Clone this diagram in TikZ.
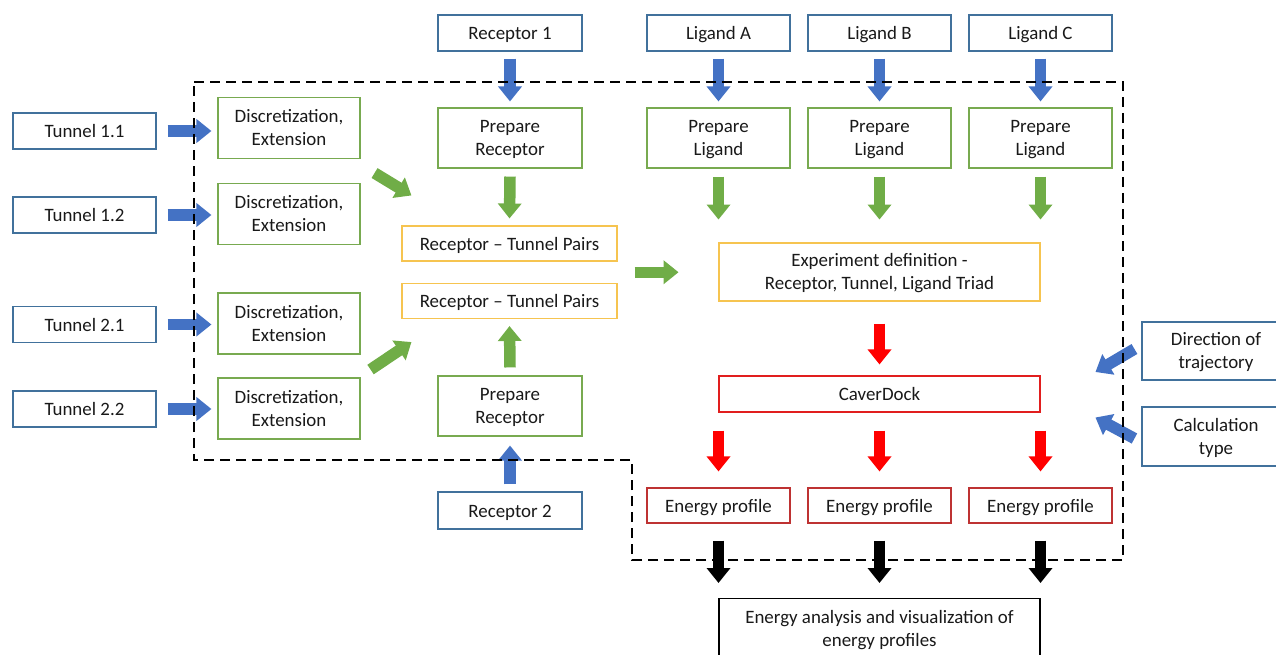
\documentclass[tikz,border=0pt]{standalone}
\usepackage{fontspec}
\setmainfont{Carlito}
\usetikzlibrary{arrows.meta,calc}
\definecolor{bbord}{RGB}{65,113,156}
\definecolor{gbord}{RGB}{120,170,80}
\definecolor{ybord}{RGB}{246,196,80}
\definecolor{rbord}{RGB}{225,30,30}
\definecolor{dbord}{RGB}{190,50,50}
\definecolor{ablue}{RGB}{68,114,196}
\definecolor{agreen}{RGB}{112,173,71}
\definecolor{ared}{RGB}{255,0,0}
\definecolor{txt}{RGB}{25,25,25}
\tikzset{
  box/.style={draw, line width=1.1, fill=white, align=center, inner sep=0, text=txt,
    font=\fontsize{18.9}{23.3}\selectfont},
  one/.style={text height=13, text depth=0},
  two/.style={text height=35.6, text depth=0},
  bluebox/.style={box, draw=bbord},
  greenbox/.style={box, draw=gbord},
  yellowbox/.style={box, draw=ybord},
  redbox/.style={box, draw=rbord},
  dredbox/.style={box, draw=dbord},
  blackbox/.style={box, draw=black},
  arr/.style={line width=11.5, draw=#1, -{Triangle[length=15pt,width=23pt]}},
  frame/.style={line width=2.7, dash pattern=on 10pt off 6pt, draw=black},
}
\begin{document}
\begin{tikzpicture}[x=1pt,y=-1pt]
\useasboundingbox (0,0) rectangle (1276,655);
% top inputs
\node[bluebox, one, minimum width=144, minimum height=36] (r1) at (510,33) {Receptor 1};
\node[bluebox, one, minimum width=143, minimum height=36] (la) at (718.5,33) {Ligand A};
\node[bluebox, one, minimum width=143, minimum height=36] (lb) at (879.5,33) {Ligand B};
\node[bluebox, one, minimum width=143, minimum height=36] (lc) at (1040.5,33) {Ligand C};
% prepare
\node[greenbox, two, minimum width=144, minimum height=60] (pr1) at (510,138) {Prepare\\Receptor};
\node[greenbox, two, minimum width=143, minimum height=60] (pla) at (718.5,138) {Prepare\\Ligand};
\node[greenbox, two, minimum width=143, minimum height=60] (plb) at (879.5,138) {Prepare\\Ligand};
\node[greenbox, two, minimum width=143, minimum height=60] (plc) at (1040.5,138) {Prepare\\Ligand};
% tunnels
\node[bluebox, one, minimum width=143, minimum height=36] (t1) at (84.5,131) {Tunnel 1.1};
\node[bluebox, one, minimum width=143, minimum height=36] (t2) at (84.5,215) {Tunnel 1.2};
\node[bluebox, one, minimum width=143, minimum height=36] (t3) at (84.5,324.5) {Tunnel 2.1};
\node[bluebox, one, minimum width=143, minimum height=36] (t4) at (84.5,409) {Tunnel 2.2};
% discretization
\node[greenbox, two, minimum width=142, minimum height=61] (d1) at (289,128) {Discretization,\\Extension};
\node[greenbox, two, minimum width=142, minimum height=61] (d2) at (289,214) {Discretization,\\Extension};
\node[greenbox, two, minimum width=142, minimum height=61] (d3) at (289,323.5) {Discretization,\\Extension};
\node[greenbox, two, minimum width=142, minimum height=61] (d4) at (289,408.5) {Discretization,\\Extension};
% pairs
\node[yellowbox, one, minimum width=215, minimum height=35] (rtp1) at (509.5,243.5) {Receptor -- Tunnel Pairs};
\node[yellowbox, one, minimum width=215, minimum height=35] (rtp2) at (509.5,301) {Receptor -- Tunnel Pairs};
% receptor 2
\node[greenbox, two, minimum width=144, minimum height=60] (pr2) at (510,406) {Prepare\\Receptor};
\node[bluebox, one, minimum width=144, minimum height=37] (r2) at (510,510.5) {Receptor 2};
% experiment
\node[yellowbox, two, minimum width=321, minimum height=58] (exp) at (879.5,272) {Experiment definition -\\Receptor, Tunnel, Ligand Triad};
\node[redbox, one, minimum width=321, minimum height=36] (cd) at (879.5,394) {CaverDock};
% energy profiles
\node[dredbox, one, minimum width=143, minimum height=35] (e1) at (718.5,505.5) {Energy profile};
\node[dredbox, one, minimum width=143, minimum height=35] (e2) at (879.5,505.5) {Energy profile};
\node[dredbox, one, minimum width=143, minimum height=35] (e3) at (1040.5,505.5) {Energy profile};
\node[blackbox, two, minimum width=321, minimum height=61, anchor=north] (fin) at (879.5,598) {Energy analysis and visualization of\\energy profiles};
% side inputs
\node[bluebox, two, minimum width=148, minimum height=58] (dir) at (1216,351) {Direction of\\trajectory};
\node[bluebox, two, minimum width=148, minimum height=59] (ct) at (1216,436.5) {Calculation\\type};
% blue arrows
\draw[arr=ablue] ($(r1.south)+(0,7)$) -- ($(pr1.north)+(0,-6)$);
\draw[arr=ablue] ($(la.south)+(0,7)$) -- ($(pla.north)+(0,-6)$);
\draw[arr=ablue] ($(lb.south)+(0,7)$) -- ($(plb.north)+(0,-6)$);
\draw[arr=ablue] ($(lc.south)+(0,7)$) -- ($(plc.north)+(0,-6)$);
\draw[arr=ablue] ($(t1.east)+(11,0)$) -- ($(d1.west |- t1.east)+(-6,0)$);
\draw[arr=ablue] ($(t2.east)+(11,0)$) -- ($(d2.west |- t2.east)+(-6,0)$);
\draw[arr=ablue] ($(t3.east)+(11,0)$) -- ($(d3.west |- t3.east)+(-6,0)$);
\draw[arr=ablue] ($(t4.east)+(11,0)$) -- ($(d4.west |- t4.east)+(-6,0)$);
\draw[arr=ablue] ($(r2.north)+(0,-7)$) -- ($(pr2.south)+(0,9)$);
\draw[arr=ablue] ($(dir.west)+(-7,-2)$) -- ($(dir.west)+(-46,21)$);
\draw[arr=ablue] ($(ct.west)+(-7,2)$) -- ($(ct.west)+(-46,-19)$);
% green arrows
\draw[arr=agreen] ($(pr1.south)+(0,8)$) -- ($(rtp1.north)+(0,-7)$);
\draw[arr=agreen] ($(pla.south)+(0,8)$) -- ($(pla.south)+(0,51)$);
\draw[arr=agreen] ($(plb.south)+(0,8)$) -- ($(plb.south)+(0,51)$);
\draw[arr=agreen] ($(plc.south)+(0,8)$) -- ($(plc.south)+(0,51)$);
\draw[arr=agreen] ($(d1.south east)+(14,14)$) -- ($(rtp1.north west)+(10,-30)$);
\draw[arr=agreen] ($(d3.south east)+(10,15)$) -- ($(rtp2.south west)+(10,23)$);
\draw[arr=agreen] ($(pr2.north)+(0,-8)$) -- ($(rtp2.south)+(0,7)$);
\coordinate (rm) at ($(rtp1.east)!0.5!(rtp2.east)$);
\draw[arr=agreen] ($(rm)+(17,0)$) -- ($(rm)+(61,0)$);
% red arrows
\draw[arr=ared] ($(exp.south)+(0,22)$) -- ($(cd.north)+(0,-11)$);
\draw[arr=ared] ($(e1.north |- cd.south)+(0,18)$) -- ($(e1.north)+(0,-16)$);
\draw[arr=ared] ($(e2.north |- cd.south)+(0,18)$) -- ($(e2.north)+(0,-16)$);
\draw[arr=ared] ($(e3.north |- cd.south)+(0,18)$) -- ($(e3.north)+(0,-16)$);
% black arrows
\draw[arr=black] ($(e1.south)+(0,17)$) -- ($(e1.south |- fin.north)+(0,-15)$);
\draw[arr=black] ($(e2.south)+(0,17)$) -- ($(e2.south |- fin.north)+(0,-15)$);
\draw[arr=black] ($(e3.south)+(0,17)$) -- ($(e3.south |- fin.north)+(0,-15)$);
% dashed frame
\draw[frame] (194,82) -- (1123,82) -- (1123,560) -- (632,560) -- (632,460) -- (194,460) -- cycle;
\end{tikzpicture}
\end{document}
